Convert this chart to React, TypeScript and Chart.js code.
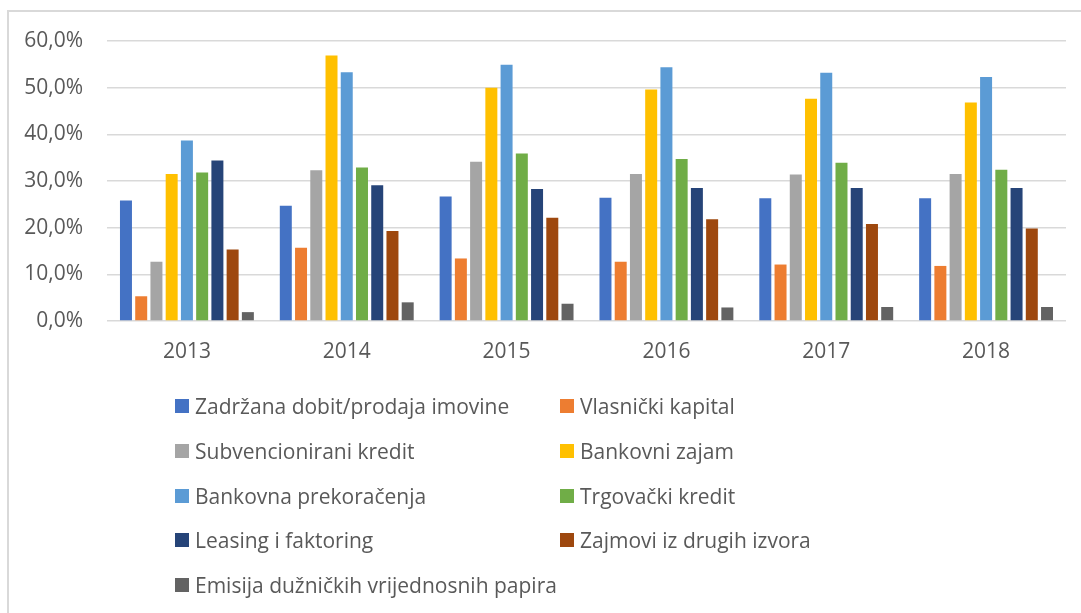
import React, { useEffect, useRef } from "react";
import { Chart, registerables } from "chart.js";

Chart.register(...registerables);

const years = ["2013", "2014", "2015", "2016", "2017", "2018"];

const zadrzanaDobit = [25.8, 24.7, 26.7, 26.4, 26.3, 26.3];
const vlasnickiKapital = [5.3, 15.7, 13.4, 12.7, 12.1, 11.8];
const subvencioniraniKredit = [12.7, 32.3, 34.1, 31.5, 31.4, 31.5];
const bankovniZajam = [31.5, 56.9, 50.0, 49.6, 47.6, 46.8];
const bankovnaPrekoracenja = [38.7, 53.3, 54.9, 54.4, 53.2, 52.3];
const trgovackiKredit = [31.8, 32.9, 35.9, 34.7, 33.9, 32.4];
const leasingFaktoring = [34.4, 29.1, 28.3, 28.5, 28.5, 28.5];
const zajmoviDrugiIzvori = [15.3, 19.3, 22.1, 21.8, 20.8, 19.8];
const emisijaPapira = [1.9, 4.0, 3.7, 2.9, 3.0, 3.0];

const seriesNames = [
  "Zadržana dobit/prodaja imovine",
  "Vlasnički kapital",
  "Subvencionirani kredit",
  "Bankovni zajam",
  "Bankovna prekoračenja",
  "Trgovački kredit",
  "Leasing i faktoring",
  "Zajmovi iz drugih izvora",
  "Emisija dužničkih vrijednosnih papira",
];

const seriesValues = [
  zadrzanaDobit,
  vlasnickiKapital,
  subvencioniraniKredit,
  bankovniZajam,
  bankovnaPrekoracenja,
  trgovackiKredit,
  leasingFaktoring,
  zajmoviDrugiIzvori,
  emisijaPapira,
];

const seriesColors = [
  "#4472C4",
  "#ED7D31",
  "#A5A5A5",
  "#FFC000",
  "#5B9BD5",
  "#70AD47",
  "#264478",
  "#9E480E",
  "#636363",
];

const yTicks = [0, 10, 20, 30, 40, 50, 60];

const FONT = "'Open Sans', 'Noto Sans', sans-serif";
const TEXT_COLOR = "#595959";
const GRID_COLOR = "#d9d9d9";

export default function App() {
  const canvasRef = useRef<HTMLCanvasElement | null>(null);

  useEffect(() => {
    if (!canvasRef.current) return;
    const chart = new Chart(canvasRef.current, {
      type: "bar",
      data: {
        labels: years,
        datasets: seriesNames.map((name, i) => ({
          label: name,
          data: seriesValues[i],
          backgroundColor: seriesColors[i],
          borderWidth: 0,
          categoryPercentage: 0.858,
          barPercentage: 0.787,
        })),
      },
      options: {
        responsive: false,
        animation: false,
        devicePixelRatio: 1,
        layout: { padding: { left: 0, right: 15, top: 41, bottom: 232 } },
        plugins: {
          legend: { display: false },
          tooltip: { enabled: false },
          title: { display: false },
        },
        scales: {
          x: {
            grid: { display: false, drawTicks: false },
            border: { display: false },
            ticks: {
              color: TEXT_COLOR,
              font: { family: FONT, size: 21 },
              padding: 18,
              maxRotation: 0,
            },
            afterFit: (scale: any) => {
              scale.height = 60;
            },
          },
          y: {
            min: 0,
            max: 60,
            afterBuildTicks: (scale: any) => {
              scale.ticks = yTicks.map((v) => ({ value: v }));
            },
            grid: { color: GRID_COLOR, lineWidth: 1.5, drawTicks: false },
            border: { display: false },
            ticks: {
              color: TEXT_COLOR,
              font: { family: FONT, size: 21 },
              padding: 24,
              callback: (v: any) => Number(v).toFixed(1).replace(".", ",") + "%",
            },
            afterFit: (scale: any) => {
              scale.width = 107;
            },
          },
        },
      },
    });
    return () => chart.destroy();
  }, []);

  const legendRows: number[][] = [];
  for (let i = 0; i < seriesNames.length; i += 2) {
    legendRows.push(i + 1 < seriesNames.length ? [i, i + 1] : [i]);
  }

  return (
    <div
      style={{
        position: "fixed",
        left: 0,
        top: 0,
        width: 1081,
        height: 613,
        overflow: "hidden",
        background: "#fff",
      }}
    >
      <div
        style={{
          position: "absolute",
          left: 7,
          top: 10,
          width: 1200,
          height: 700,
          border: `2px solid ${GRID_COLOR}`,
        }}
      />
      <canvas
        ref={canvasRef}
        width={1081}
        height={613}
        style={{ position: "absolute", left: 0, top: 0, width: 1081, height: 613 }}
      />
      {legendRows.map((row, r) =>
        row.map((idx, c) => (
          <div
            key={idx}
            style={{
              position: "absolute",
              left: c === 0 ? 175 : 560,
              top: 406 + r * 44.75 - 15,
              height: 30,
              display: "flex",
              alignItems: "center",
              fontFamily: FONT,
              fontSize: 21,
              color: TEXT_COLOR,
              whiteSpace: "nowrap",
            }}
          >
            <span
              style={{
                display: "inline-block",
                width: 14,
                height: 14,
                background: seriesColors[idx],
                marginRight: 6,
              }}
            />
            <span>{seriesNames[idx]}</span>
          </div>
        ))
      )}
    </div>
  );
}
